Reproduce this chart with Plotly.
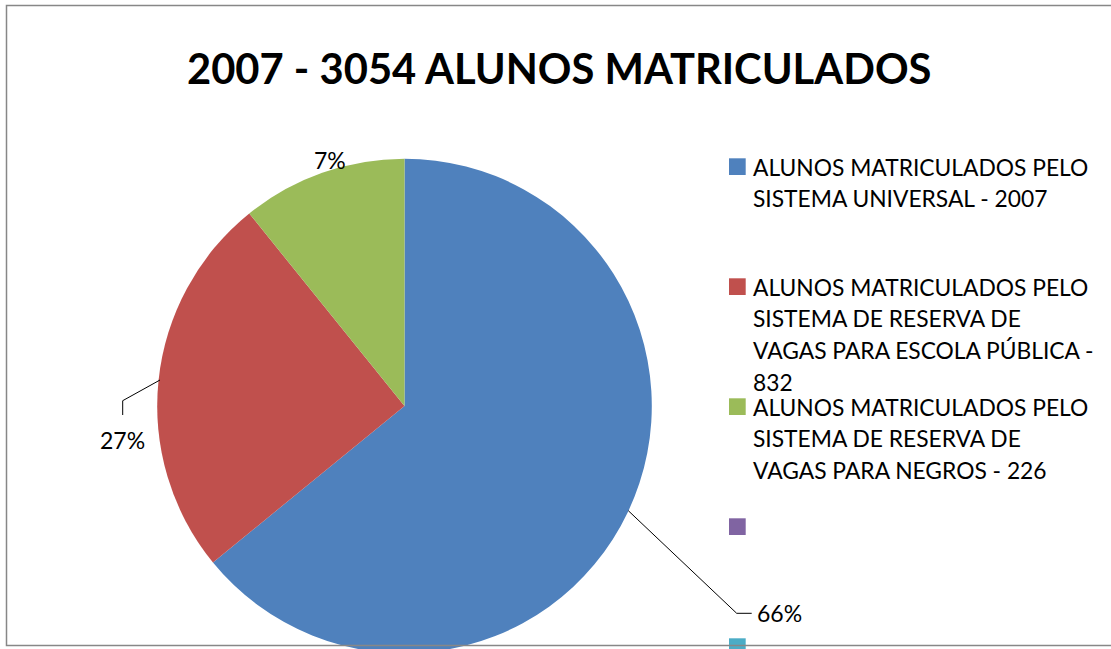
import plotly.graph_objects as go

# ---- data ----
title_text = "2007 - 3054 ALUNOS MATRICULADOS"
slice_names = [
    "ALUNOS MATRICULADOS PELO SISTEMA UNIVERSAL - 2007",
    "ALUNOS MATRICULADOS PELO SISTEMA DE RESERVA DE VAGAS PARA ESCOLA PÚBLICA - 832",
    "ALUNOS MATRICULADOS PELO SISTEMA DE RESERVA DE VAGAS PARA NEGROS - 226",
]
slice_values = [64.1, 25.1, 10.8]          # shares as drawn in the picture
slice_labels = ["66%", "27%", "7%"]         # data labels as printed
colors = ["#4F81BD", "#C0504D", "#9BBB59", "#8064A2", "#4BACC6"]
legend_lines = [
    ["ALUNOS MATRICULADOS PELO", "SISTEMA UNIVERSAL - 2007"],
    ["ALUNOS MATRICULADOS PELO", "SISTEMA DE RESERVA DE", "VAGAS PARA ESCOLA PÚBLICA -", "832"],
    ["ALUNOS MATRICULADOS PELO", "SISTEMA DE RESERVA DE", "VAGAS PARA NEGROS - 226"],
    [],
    [],
]

W, H = 1111, 660
FONT = "Lato"


def fx(x):
    return x / W


def fy(y):
    return 1 - y / H


fig = go.Figure()

cx, cy, r = 404.5, 406.0, 247.3
fig.add_trace(go.Pie(
    labels=slice_names,
    values=slice_values,
    marker=dict(colors=colors[:3], line=dict(width=0)),
    sort=False,
    direction="clockwise",
    rotation=0,
    textinfo="none",
    hoverinfo="label+percent",
    showlegend=False,
    domain=dict(x=[fx(cx - r), fx(cx + r)], y=[fy(cy + r), fy(cy - r)]),
))

annotations = []
shapes = []

# title
annotations.append(dict(
    x=fx(559), y=fy(68), xref="paper", yref="paper", text="<b>" + title_text + "</b>",
    showarrow=False, xanchor="center", yanchor="middle",
    font=dict(family=FONT, size=41.7, color="black"),
))

# data labels
label_pos = [(755, 613, "left"), (122.5, 440, "center"), (329.5, 160, "center")]
for txt, (x, y, anc) in zip(slice_labels, label_pos):
    annotations.append(dict(
        x=fx(x), y=fy(y), xref="paper", yref="paper", text=txt, showarrow=False,
        xanchor=anc, yanchor="middle", font=dict(family=FONT, size=23, color="black"),
    ))

# leader lines
leaders = [
    [(628.3, 510.7), (736.7, 613.3), (751.7, 613.3)],
    [(160, 380), (122.7, 400.7), (122.7, 415)],
]
for pts in leaders:
    path = "M " + " L ".join(f"{fx(x)},{fy(y)}" for x, y in pts)
    shapes.append(dict(type="path", xref="paper", yref="paper", path=path,
                       line=dict(color="black", width=1)))

# legend (manual, to match wrapping)
leg_top0, leg_step, sq, line_h = 158.3, 120.0, 16.7, 31.7
for i, (col, lines) in enumerate(zip(colors, legend_lines)):
    top = leg_top0 + i * leg_step
    shapes.append(dict(type="rect", xref="paper", yref="paper",
                       x0=fx(729), x1=fx(729 + sq), y0=fy(top + sq), y1=fy(top),
                       fillcolor=col, line=dict(width=0), layer="above"))
    for k, ln in enumerate(lines):
        annotations.append(dict(
            x=fx(751), y=fy(top + sq / 2 + k * line_h), xref="paper", yref="paper",
            text=ln, showarrow=False, xanchor="left", yanchor="middle",
            font=dict(family=FONT, size=22.8, color="black"),
        ))

# chart border
shapes.append(dict(type="rect", xref="paper", yref="paper",
                   x0=fx(6.5), x1=fx(1125), y0=fy(645.5), y1=fy(5.5),
                   line=dict(color="#878787", width=1.5), layer="above"))

fig.update_layout(
    width=W, height=H,
    margin=dict(l=0, r=0, t=0, b=0),
    paper_bgcolor="white", plot_bgcolor="white",
    annotations=annotations, shapes=shapes,
    showlegend=False,
)

fig.write_html(
    "out.html",
    config={"displayModeBar": False},
    post_script="document.documentElement.style.overflow='hidden';"
                "document.body.style.margin='0';document.body.style.overflow='hidden';",
)
